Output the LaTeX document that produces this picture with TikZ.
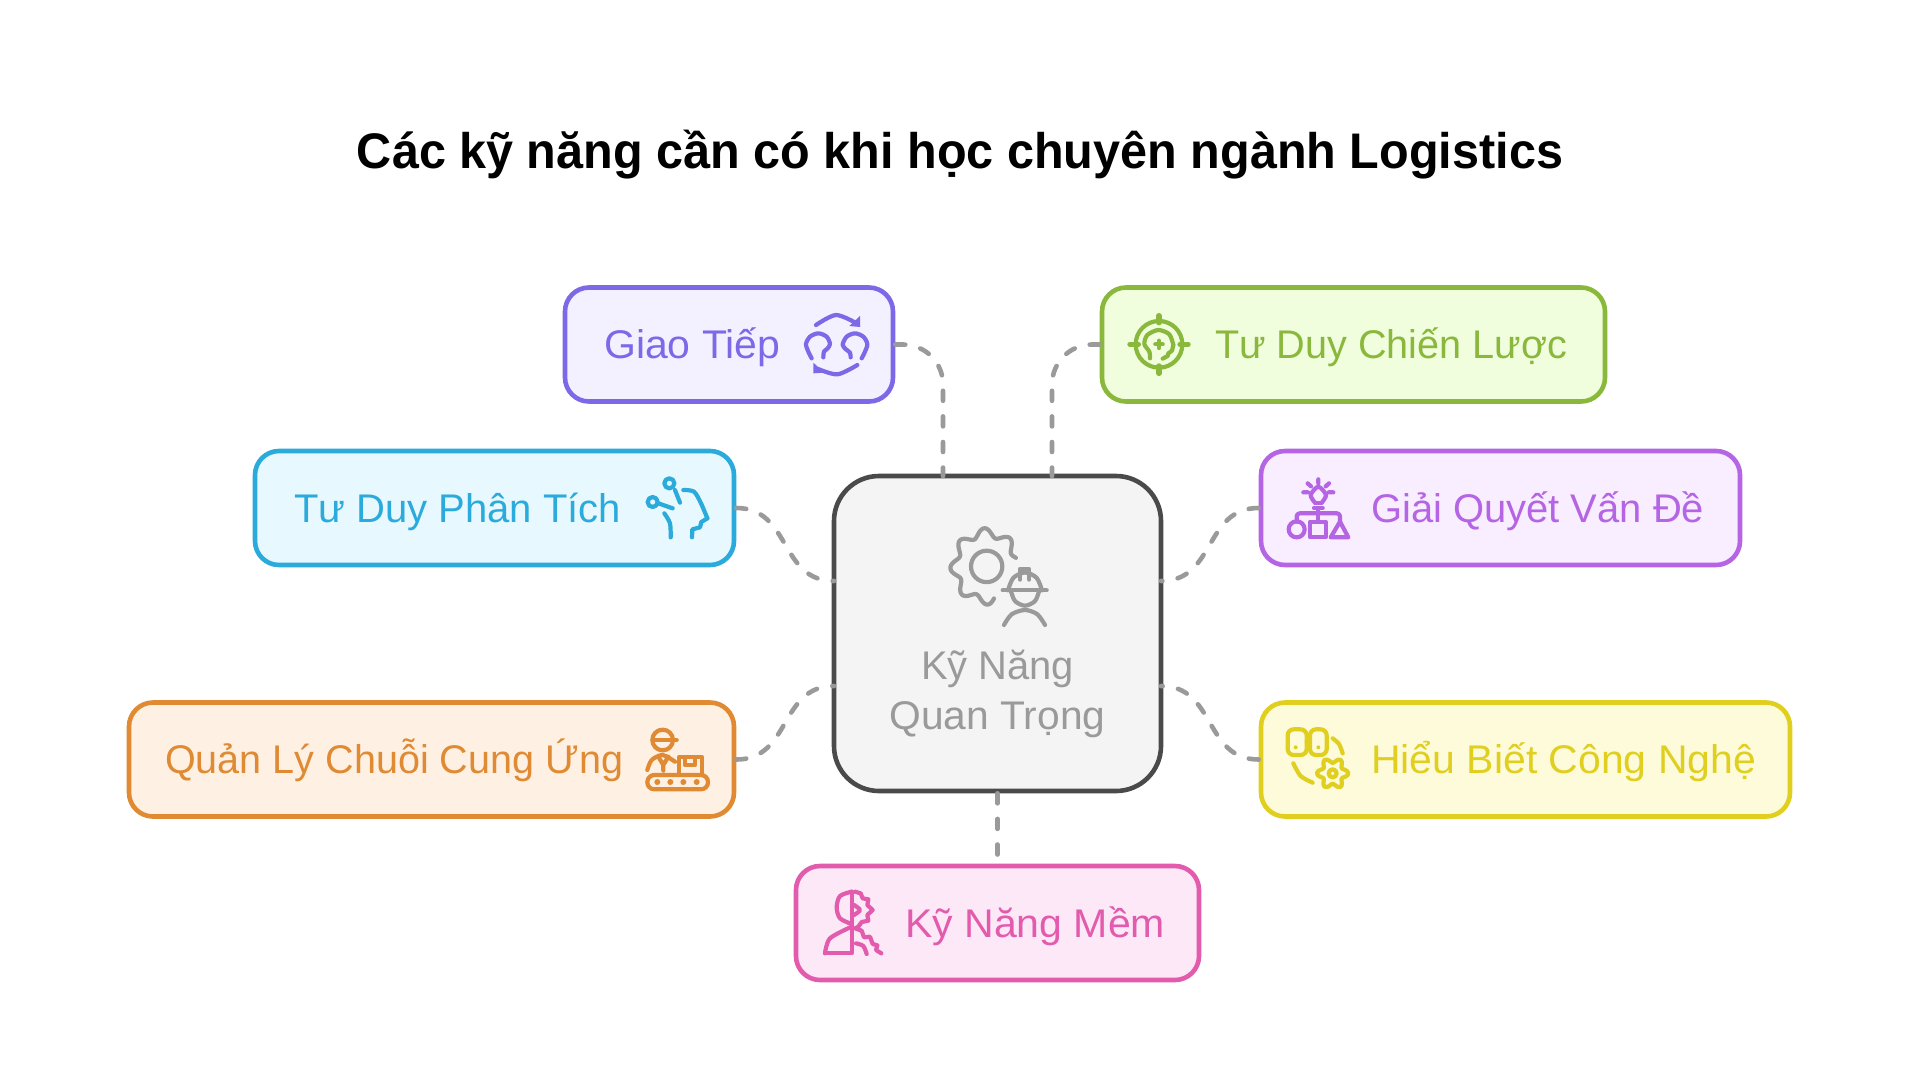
\documentclass[tikz,border=0pt]{standalone}
\usepackage{graphicx}
\usepackage{fontspec}
\setmainfont{Liberation Sans}
\definecolor{cGiao}{HTML}{7D68E8}\definecolor{fGiao}{HTML}{F3F0FF}
\definecolor{cChien}{HTML}{8AB83C}\definecolor{fChien}{HTML}{F1FEDD}
\definecolor{cTich}{HTML}{2AABDB}\definecolor{fTich}{HTML}{E8F8FF}
\definecolor{cGiai}{HTML}{B565E4}\definecolor{fGiai}{HTML}{F8EEFF}
\definecolor{cQuan}{HTML}{E08A33}\definecolor{fQuan}{HTML}{FEF1E4}
\definecolor{cHieu}{HTML}{E0CF1F}\definecolor{fHieu}{HTML}{FEFBDA}
\definecolor{cMem}{HTML}{E25BAD}\definecolor{fMem}{HTML}{FDE8F8}
\definecolor{cCore}{HTML}{4A4A4A}\definecolor{fCore}{HTML}{F4F4F4}
\definecolor{tCore}{HTML}{9A9A9A}
\newcommand{\fitw}[2]{\resizebox{#1pt}{\height}{#2}}
\tikzset{
  box/.style 2 args={rectangle,rounded corners=24,draw=#1,fill=#2,line width=4.6,inner sep=0},
  lab/.style={anchor=base west,inner sep=0,text=#1,font=\fontsize{40}{48}\selectfont},
  conn/.style={draw=tCore,line width=4.6,line cap=round,dash pattern=on 10 off 15.6},
  ico/.style={draw=#1,line width=4.2,line cap=round,line join=round}
}
\begin{document}
\begin{tikzpicture}[x=1pt,y=-1pt]
\useasboundingbox (0,0) rectangle (1920,1080);
\fill[white] (0,0) rectangle (1920,1080);
\node[anchor=base,inner sep=0,font=\bfseries\fontsize{50}{60}\selectfont] (title) at (960,168) {\fitw{1206}{Các kỹ năng cần có khi học chuyên ngành Logistics}};

% boxes
\node[box={cCore}{fCore},rounded corners=45,minimum width=327,minimum height=315] (core) at (997.5,633.5) {};
\node[box={cGiao}{fGiao},minimum width=328,minimum height=114] (giao) at (729,344.5) {};
\node[box={cChien}{fChien},minimum width=503,minimum height=114] (chien) at (1353.5,344.5) {};
\node[box={cTich}{fTich},minimum width=479,minimum height=114] (tich) at (494.5,508) {};
\node[box={cGiai}{fGiai},minimum width=479,minimum height=114] (giai) at (1500.5,508) {};
\node[box={cQuan}{fQuan},minimum width=605,minimum height=114] (quan) at (431.5,759.5) {};
\node[box={cHieu}{fHieu},minimum width=529,minimum height=114] (hieu) at (1525.5,759.5) {};
\node[box={cMem}{fMem},minimum width=403,minimum height=114] (mem) at (997.5,923) {};

% labels
\node[lab=cGiao] (lGiao) at (604,358) {\fitw{176}{Giao Tiếp}};
\node[lab=cChien] (lChien) at (1215,358) {\fitw{352}{Tư Duy Chiến Lược}};
\node[lab=cTich] (lTich) at (294,522) {\fitw{327}{Tư Duy Phân Tích}};
\node[lab=cGiai] (lGiai) at (1371,522) {\fitw{333}{Giải Quyết Vấn Đề}};
\node[lab=cQuan] (lQuan) at (165,773) {\fitw{458}{Quản Lý Chuỗi Cung Ứng}};
\node[lab=cHieu] (lHieu) at (1371,773) {\fitw{385}{Hiểu Biết Công Nghệ}};
\node[lab=cMem] (lMem) at (905,937) {\fitw{260}{Kỹ Năng Mềm}};
\node[lab=tCore,anchor=base] (lCoreA) at (997.5,679) {\fitw{153}{Kỹ Năng}};
\node[lab=tCore,anchor=base] (lCoreB) at (997.5,729) {\fitw{216}{Quan Trọng}};

% connector ends on the core box
\coordinate (cT1) at (943,476);
\coordinate (cT2) at (1052,476);
\coordinate (cL1) at (834,581);
\coordinate (cL2) at (834,686);
\coordinate (cR1) at (1161,581);
\coordinate (cR2) at (1161,686);

\draw[conn,rounded corners=40] (giao.east) -| (cT1);
\draw[conn,rounded corners=40] (chien.west) -| (cT2);
\draw[conn] (tich.east) .. controls +(55,0) and +(-55,0) .. (cL1);
\draw[conn] (giai.west) .. controls +(-55,0) and +(55,0) .. (cR1);
\draw[conn] (quan.east) .. controls +(55,0) and +(-55,0) .. (cL2);
\draw[conn] (hieu.west) .. controls +(-55,0) and +(55,0) .. (cR2);
\draw[conn] (core.south) -- (mem.north);

% icon: core
\begin{scope}[shift={(780,260)},xscale=1/3,yscale=1/2.8]
 \draw[ico=tCore] plot[smooth,domain=75:345,samples=110] ({618+(95+12*cos(8*\x+20))*cos(\x)},{858+(95+12*cos(8*\x+20))*sin(\x)});
 \draw[ico=tCore] (620,858) circle[x radius=47,y radius=44];
 \draw[ico=tCore] (668,925) -- (800,925);
 \draw[ico=tCore] plot[smooth] coordinates {(684,925) (700,890) (735,875) (770,890) (786,925)};
 \draw[ico=tCore] (720,895) -- (720,865) -- (748,865) -- (748,895);
 \draw[ico=tCore] plot[smooth] coordinates {(692,925) (705,955) (735,968) (765,955) (778,925)};
 \draw[ico=tCore] plot[smooth] coordinates {(672,1022) (695,992) (735,980) (772,992) (795,1022)};
\end{scope}

% icon: giao tiep
\begin{scope}[shift={(540,270)},scale=1/3]
 \draw[ico=cGiao] plot[smooth] coordinates {(828,165) (888,135) (950,160)};
 \draw[ico=cGiao] plot[smooth] coordinates {(952,285) (892,313) (832,296)};
 \fill[cGiao] (960,138) -- (960,171) -- (928,168) -- cycle;
 \fill[cGiao] (820,278) -- (820,310) -- (852,308) -- cycle;
 \draw[ico=cGiao] plot[smooth] coordinates {(815,265) (805,245) (798,222) (810,200) (835,190) (860,200) (870,222) (862,236) (852,245) (850,262)};
 \draw[ico=cGiao] plot[smooth] coordinates {(965,265) (975,245) (982,222) (970,200) (945,190) (920,200) (908,224) (918,238) (930,248) (932,262)};
\end{scope}

% icon: chien luoc
\begin{scope}[shift={(1090,270)},scale=1/3]
 \draw[ico=cChien] (207,223) circle[radius=70];
 \draw[ico=cChien,line width=5.4] (207,137) -- (207,158) (207,288) -- (207,310) (120,223) -- (145,223) (270,223) -- (294,223);
 \draw[ico=cChien] plot[smooth] coordinates {(180,265) (178,245) (163,222) (172,195) (205,180) (238,193) (250,225)};
 \draw[ico=cChien] (250,225) -- (246,242) -- (235,250) -- (233,258) -- (218,266);
 \draw[ico=cChien] (196,223) -- (218,223) (207,212) -- (207,234);
\end{scope}

% icon: phan tich
\begin{scope}[shift={(620,440)},scale=1/3]
 \draw[ico=cTich] (148,130) circle[radius=15];
 \draw[ico=cTich] (98,186) circle[radius=15];
 \draw[ico=cTich] (165,150) -- (180,188) (115,190) -- (158,205);
 \draw[ico=cTich] plot[smooth] coordinates {(190,150) (222,155) (243,190) (262,235)};
 \draw[ico=cTich] (262,235) -- (244,246) -- (240,262) -- (217,268) -- (216,292);
 \draw[ico=cTich] plot[smooth] coordinates {(133,220) (150,250) (152,292)};
\end{scope}

% icon: giai quyet
\begin{scope}[shift={(1160,440)},scale=1/3]
 \draw[ico=cGiai] (475,118) -- (475,130) (443,130) -- (453,139) (507,130) -- (497,139) (430,157) -- (444,157) (506,157) -- (520,157);
 \draw[ico=cGiai] plot[smooth] coordinates {(465,188) (452,165) (475,140) (498,165) (485,188)};
 \draw[ico=cGiai] (465,188) -- (485,188);
 \draw[ico=cGiai] (462,204) -- (488,204) (475,204) -- (475,245);
 \draw[ico=cGiai,rounded corners=3] (410,245) -- (410,220) -- (540,220) -- (540,245);
 \draw[ico=cGiai] (410,268) circle[radius=24];
 \draw[ico=cGiai] (450,245) rectangle (497,292);
 \draw[ico=cGiai] (512,292) -- (565,292) -- (540,245) -- cycle;
\end{scope}

% icon: quan ly
\begin{scope}[shift={(620,700)},scale=1/3]
 \draw[ico=cQuan] (128,120) circle[radius=31];
 \draw[ico=cQuan] (98,120) -- (170,120);
 \draw[ico=cQuan] plot[smooth] coordinates {(82,210) (95,180) (128,165) (165,185)};
 \draw[ico=cQuan] (115,170) -- (130,195) -- (145,170) (130,195) -- (130,212);
 \draw[ico=cQuan] (178,220) -- (178,170) -- (245,170) -- (245,220);
 \draw[ico=cQuan] (195,172) -- (195,195) -- (225,195) -- (225,172);
 \draw[ico=cQuan,rounded corners=7] (82,225) rectangle (264,268);
 \foreach \px in {112,151,190,230} \fill[cQuan] (\px,246) circle[radius=9];
\end{scope}

% icon: hieu biet
\begin{scope}[shift={(1160,690)},scale=1/3]
 \draw[ico=cHieu,rounded corners=6] (383,118) rectangle (440,195);
 \draw[ico=cHieu,rounded corners=6] (450,118) rectangle (500,195);
 \draw[ico=cHieu] (440,155) -- (450,155);
 \fill[cHieu] (407,172) circle[radius=6] (475,172) circle[radius=6];
 \draw[ico=cHieu] plot[smooth] coordinates {(518,145) (537,162) (548,190)};
 \draw[ico=cHieu] plot[smooth] coordinates {(400,220) (422,258) (458,278)};
 \draw[ico=cHieu] plot[smooth cycle,domain=0:345,samples=48] ({518+(39+8*cos(6*\x+180))*cos(\x-90)},{250+(39+8*cos(6*\x+180))*sin(\x-90)});
 \draw[ico=cHieu] (518,250) circle[radius=12];
\end{scope}

% icon: ky nang mem
\begin{scope}[shift={(790,860)},scale=1/3]
 \draw[ico=cMem] (185,95) -- (185,280) -- (105,280);
 \draw[ico=cMem] plot[smooth] coordinates {(185,95) (150,108) (140,142) (150,175) (185,192)};
 \draw[ico=cMem] plot[smooth] coordinates {(105,280) (120,235) (185,200)};
 \draw[ico=cMem] (195,95) -- (212,100) -- (218,115) -- (235,118) -- (232,135) -- (248,150) -- (232,165) -- (235,182) -- (215,186) -- (205,200) -- (195,205) -- (215,212) -- (222,232) -- (240,230) -- (248,252) -- (262,256) -- (258,270) -- (274,280);
 \draw[ico=cMem] plot[smooth] coordinates {(192,135) (210,150) (192,165)};
 \draw[ico=cMem] plot[smooth] coordinates {(198,250) (220,258) (230,282)};
\end{scope}
\end{tikzpicture}
\end{document}
